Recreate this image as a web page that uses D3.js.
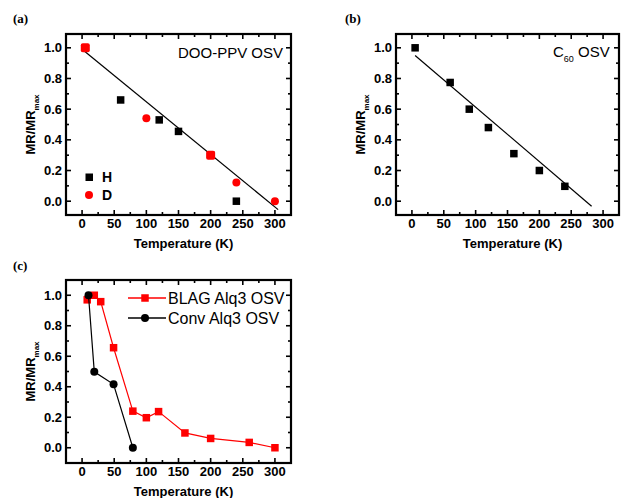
<!DOCTYPE html>
<html>
<head>
<meta charset="utf-8">
<script src="https://cdn.jsdelivr.net/npm/d3@7/dist/d3.min.js"></script>
<style>
  body { margin: 0; background: #fff; }
  svg { display: block; font-family: "Liberation Sans", Arial, sans-serif; }
</style>
</head>
<body>
<svg id="chart" width="621" height="498"></svg>
<script>
// panel (a): DOO-PPV OSV
var aTempH = [5, 60, 120, 150, 200, 240];
var aValH  = [1.0, 0.66, 0.53, 0.455, 0.30, 0.0];
var aTempD = [5, 100, 200, 240, 300];
var aValD  = [1.0, 0.54, 0.30, 0.122, 0.0];
var aFit   = [[0, 0.99], [305, -0.055]];

// panel (b): C60 OSV
var bTemp = [5, 60, 90, 120, 160, 200, 240];
var bVal  = [1.0, 0.774, 0.60, 0.48, 0.31, 0.20, 0.097];
var bFit  = [[5, 0.95], [282, -0.033]];

// panel (c): BLAG vs Conv Alq3
var cTempBlag = [8, 19, 29, 49, 79, 100, 119, 160, 200, 260, 300];
var cValBlag  = [0.97, 1.0, 0.958, 0.656, 0.24, 0.197, 0.237, 0.097, 0.061, 0.035, 0.0];
var cTempConv = [10, 19, 49, 79];
var cValConv  = [1.0, 0.498, 0.416, 0.0];

var xTicks = [0, 50, 100, 150, 200, 250, 300];
var xMinor = [25, 75, 125, 175, 225, 275];
var yTicks = [0, 0.2, 0.4, 0.6, 0.8, 1.0];
var yMinor = [0.1, 0.3, 0.5, 0.7, 0.9];

var svg = d3.select("#chart");
var RED = "#ff0000";

function zip(a, b) { return a.map(function(v, i) { return [v, b[i]]; }); }

function panel(box, yDom, label) {
  var g = svg.append("g");
  var x = d3.scaleLinear().domain([-25, 325]).range([box.x0, box.x1]);
  var y = d3.scaleLinear().domain(yDom).range([box.y1, box.y0]);

  // ticks inward on all four sides
  var ticks = g.append("g").attr("stroke", "#000").attr("stroke-width", 1.6);
  xTicks.forEach(function(t) {
    ticks.append("line").attr("x1", x(t)).attr("x2", x(t)).attr("y1", box.y1).attr("y2", box.y1 - 5);
    ticks.append("line").attr("x1", x(t)).attr("x2", x(t)).attr("y1", box.y0).attr("y2", box.y0 + 5);
  });
  xMinor.forEach(function(t) {
    ticks.append("line").attr("x1", x(t)).attr("x2", x(t)).attr("y1", box.y1).attr("y2", box.y1 - 3);
    ticks.append("line").attr("x1", x(t)).attr("x2", x(t)).attr("y1", box.y0).attr("y2", box.y0 + 3);
  });
  yTicks.forEach(function(t) {
    ticks.append("line").attr("y1", y(t)).attr("y2", y(t)).attr("x1", box.x0).attr("x2", box.x0 + 5);
    ticks.append("line").attr("y1", y(t)).attr("y2", y(t)).attr("x1", box.x1).attr("x2", box.x1 - 5);
  });
  yMinor.forEach(function(t) {
    ticks.append("line").attr("y1", y(t)).attr("y2", y(t)).attr("x1", box.x0).attr("x2", box.x0 + 3);
    ticks.append("line").attr("y1", y(t)).attr("y2", y(t)).attr("x1", box.x1).attr("x2", box.x1 - 3);
  });

  g.append("rect")
    .attr("x", box.x0).attr("y", box.y0)
    .attr("width", box.x1 - box.x0).attr("height", box.y1 - box.y0)
    .attr("fill", "none").attr("stroke", "#000").attr("stroke-width", 2.2);

  g.selectAll(".xl").data(xTicks).enter().append("text")
    .attr("x", function(d) { return x(d); })
    .attr("y", box.y1 + 13)
    .attr("text-anchor", "middle")
    .attr("font-size", 13).attr("font-weight", "bold")
    .text(function(d) { return d; });

  g.selectAll(".yl").data(yTicks).enter().append("text")
    .attr("x", box.x0 - 4)
    .attr("y", function(d) { return y(d) + 4.5; })
    .attr("text-anchor", "end")
    .attr("font-size", 13).attr("font-weight", "bold")
    .text(function(d) { return d.toFixed(1); });

  g.append("text")
    .attr("x", (box.x0 + box.x1) / 2 + 5)
    .attr("y", box.y1 + 33)
    .attr("text-anchor", "middle")
    .attr("font-size", 13).attr("font-weight", "bold")
    .text("Temperature (K)");

  var yt = g.append("text")
    .attr("transform", "translate(" + (box.x0 - 31) + "," + ((box.y0 + box.y1) / 2) + ") rotate(-90)")
    .attr("text-anchor", "middle")
    .attr("font-size", 13).attr("font-weight", "bold");
  yt.append("tspan").text("MR/MR");
  yt.append("tspan").attr("font-size", 8).attr("dy", 4).text("max");

  g.append("text")
    .attr("x", label.x).attr("y", label.y)
    .attr("font-family", "Liberation Serif, Times New Roman, serif")
    .attr("font-size", 13).attr("font-weight", "bold")
    .text(label.t);

  return {g: g, x: x, y: y};
}

function squares(p, pts, color, s) {
  p.g.selectAll(null).data(pts).enter().append("rect")
    .attr("x", function(d) { return p.x(d[0]) - s / 2; })
    .attr("y", function(d) { return p.y(d[1]) - s / 2; })
    .attr("width", s).attr("height", s)
    .attr("fill", color);
}

function circles(p, pts, color, r) {
  p.g.selectAll(null).data(pts).enter().append("circle")
    .attr("cx", function(d) { return p.x(d[0]); })
    .attr("cy", function(d) { return p.y(d[1]); })
    .attr("r", r)
    .attr("fill", color);
}

function fitLine(p, pts) {
  p.g.append("path")
    .datum(pts)
    .attr("d", d3.line().x(function(d) { return p.x(d[0]); }).y(function(d) { return p.y(d[1]); }))
    .attr("fill", "none").attr("stroke", "#000").attr("stroke-width", 1.2);
}

// ---- (a)
var pa = panel({x0: 66, x1: 291, y0: 34, y1: 215}, [-0.09, 1.09], {x: 13, y: 23, t: "(a)"});
fitLine(pa, aFit);
var hPts = zip(aTempH, aValH);
squares(pa, hPts, "#000", 7.5);
var dPts = zip(aTempD, aValD);
var overlap = dPts.filter(function(d) { return hPts.some(function(h) { return h[0] === d[0] && h[1] === d[1]; }); });
var single = dPts.filter(function(d) { return overlap.indexOf(d) < 0; });
circles(pa, single, RED, 4);
pa.g.selectAll(null).data(overlap).enter().append("rect")
  .attr("x", function(d) { return pa.x(d[0]) - 4.5; })
  .attr("y", function(d) { return pa.y(d[1]) - 4.5; })
  .attr("width", 9).attr("height", 9).attr("rx", 2)
  .attr("fill", RED);
pa.g.append("text").attr("x", 283).attr("y", 58).attr("text-anchor", "end")
  .attr("font-size", 15).text("DOO-PPV OSV");
// legend
pa.g.append("rect").attr("x", 85.5).attr("y", 173.5).attr("width", 7.5).attr("height", 7.5).attr("fill", "#000");
pa.g.append("circle").attr("cx", 89).attr("cy", 195).attr("r", 4).attr("fill", RED);
pa.g.append("text").attr("x", 102).attr("y", 182).attr("font-size", 14).attr("font-weight", "bold").text("H");
pa.g.append("text").attr("x", 102).attr("y", 200).attr("font-size", 14).attr("font-weight", "bold").text("D");

// ---- (b)
var pb = panel({x0: 396, x1: 619, y0: 34, y1: 215}, [-0.09, 1.09], {x: 345, y: 23, t: "(b)"});
fitLine(pb, bFit);
squares(pb, zip(bTemp, bVal), "#000", 7.5);
var bt = pb.g.append("text").attr("x", 553).attr("y", 57).attr("font-size", 15);
bt.append("tspan").text("C");
bt.append("tspan").attr("font-size", 9).attr("dy", 5).text("60");
bt.append("tspan").attr("dy", -5).text(" OSV");

// ---- (c)
var pc = panel({x0: 66, x1: 291, y0: 280, y1: 463}, [-0.1, 1.1], {x: 13, y: 270, t: "(c)"});
var line = d3.line().x(function(d) { return pc.x(d[0]); }).y(function(d) { return pc.y(d[1]); });
var blag = zip(cTempBlag, cValBlag);
var conv = zip(cTempConv, cValConv);
pc.g.append("path").datum(blag).attr("d", line).attr("fill", "none").attr("stroke", RED).attr("stroke-width", 1.2);
squares(pc, blag, RED, 7.5);
pc.g.append("path").datum(conv).attr("d", line).attr("fill", "none").attr("stroke", "#000").attr("stroke-width", 1.2);
circles(pc, conv, "#000", 4);
// legend
pc.g.append("line").attr("x1", 128).attr("x2", 166).attr("y1", 298).attr("y2", 298).attr("stroke", RED).attr("stroke-width", 1.4);
pc.g.append("rect").attr("x", 141.25).attr("y", 294.25).attr("width", 7.5).attr("height", 7.5).attr("fill", RED);
pc.g.append("text").attr("x", 168).attr("y", 303.5).attr("font-size", 16).text("BLAG Alq3 OSV");
pc.g.append("line").attr("x1", 128).attr("x2", 166).attr("y1", 318).attr("y2", 318).attr("stroke", "#000").attr("stroke-width", 1.4);
pc.g.append("circle").attr("cx", 145).attr("cy", 318).attr("r", 4).attr("fill", "#000");
pc.g.append("text").attr("x", 168).attr("y", 323.5).attr("font-size", 16).text("Conv Alq3 OSV");
</script>
</body>
</html>
